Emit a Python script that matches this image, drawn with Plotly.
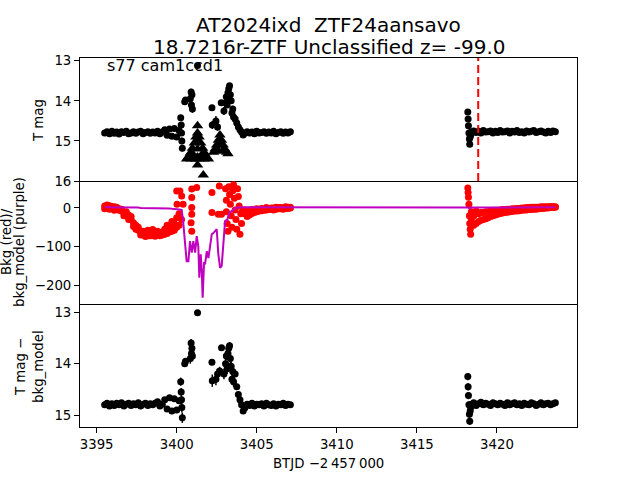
import plotly.graph_objects as go
from plotly.subplots import make_subplots

# ---------------- data ----------------
t_pre = [3395.50, 3395.65, 3395.80, 3395.95, 3396.10, 3396.25, 3396.40, 3396.55, 3396.70, 3396.85,
         3397.00, 3397.15, 3397.30, 3397.45, 3397.60, 3397.75, 3397.90, 3398.05, 3398.20, 3398.35,
         3398.50, 3398.65, 3398.80, 3398.95, 3399.10, 3399.25, 3399.40, 3399.55, 3399.70, 3399.85,
         3400.00, 3400.15]
mag_pre = [14.80, 14.77, 14.82, 14.76, 14.81, 14.78, 14.83, 14.77, 14.79, 14.76, 14.82, 14.80, 14.77, 14.81,
           14.78, 14.76, 14.82, 14.79, 14.77, 14.81, 14.78, 14.80, 14.76, 14.82, 14.78, 14.72, 14.86, 14.70,
           14.88, 14.69, 14.90, 14.74]
bkg_pre = [5, 2, 6, 0, 3, -3, -2, -8, -12, -20, -18, -30, -38, -45, -58, -62, -70, -66, -72, -64,
           -70, -60, -68, -72, -62, -55, -66, -50, -60, -40, -25, -45]
bkg_pre_b = [-2, 8, -3, 4, -6, 2, -6, -3, -20, -10, -30, -22, -48, -55, -50, -70, -60, -74, -58, -72,
             -56, -73, -60, -64, -70, -68, -45, -62, -35, -58, -50, -15]
model_pre = [2, 2, 2, 2, 2, 2, 1, 1, 1, 1, 1, 1, 1, 1, 1, 0, 0, 0, 0, 0, 0, 0, 0, 0, -1, -1, -1, -1,
             -2, -2, -3, -4]
diff_pre = [14.80, 14.77, 14.82, 14.78, 14.81, 14.77, 14.80, 14.76, 14.82, 14.79, 14.77, 14.81, 14.78, 14.80,
            14.76, 14.82, 14.79, 14.77, 14.81, 14.78, 14.80, 14.77, 14.74, 14.82, 14.79, 14.70, 14.88, 14.66,
            14.92, 14.68, 14.90, 14.72]

mag_act_t = [3400.25, 3400.28, 3400.30, 3400.32, 3400.35, 3400.50, 3400.55, 3400.85, 3400.90, 3400.92,
             3400.95, 3400.98, 3401.30, 3402.20, 3402.22, 3402.45, 3402.55, 3402.78, 3402.95, 3403.05,
             3403.10, 3403.15, 3403.20, 3403.25, 3403.30, 3403.35, 3403.40, 3403.45, 3403.50, 3403.55,
             3403.65, 3403.75, 3403.85, 3403.95, 3404.05, 3404.15]
mag_act = [14.42, 14.60, 14.80, 15.00, 15.18, 14.02, 13.98, 13.95, 13.78, 14.10, 13.85, 14.20, 13.12,
           14.17, 14.60, 14.50, 14.65, 14.05, 14.25, 14.05, 13.90, 14.10, 13.80, 13.70, 13.62, 13.85,
           14.00, 14.30, 14.20, 14.40, 14.45, 14.55, 14.65, 14.72, 14.78, 14.85]
mag_act_err = [0.06, 0.06, 0.07, 0.08, 0.08, 0.06, 0.06, 0.10, 0.08, 0.10, 0.08, 0.10, 0.04, 0.07, 0.10,
               0.12, 0.10, 0.06, 0.10, 0.08, 0.08, 0.08, 0.07, 0.07, 0.06, 0.08, 0.08, 0.10, 0.08, 0.08,
               0.06, 0.05, 0.05, 0.04, 0.04, 0.04]

ul_t = [3401.30, 3401.30, 3401.30, 3401.30, 3401.30, 3401.30, 3401.20, 3401.40, 3401.10, 3401.50,
        3400.98, 3401.62, 3400.85, 3401.75, 3400.72, 3401.88, 3400.62, 3401.98, 3401.05, 3401.55,
        3400.90, 3401.70, 3401.20, 3401.40, 3401.66,
        3402.70, 3402.60, 3402.80, 3402.50, 3402.90, 3402.40, 3403.00, 3402.30, 3403.12, 3403.20,
        3402.70, 3402.60, 3402.85]
ul_mag = [14.62, 14.80, 15.00, 15.20, 15.40, 15.60, 14.90, 14.90, 15.05, 15.05,
          15.18, 15.18, 15.30, 15.30, 15.40, 15.40, 15.45, 15.45, 15.35, 15.35,
          15.45, 15.45, 15.45, 15.45, 15.85,
          14.85, 14.98, 14.98, 15.10, 15.10, 15.20, 15.20, 15.28, 15.28, 15.32,
          15.10, 15.25, 15.25]

bkg_act_t = [3400.00, 3400.02, 3400.20, 3400.31, 3400.40, 3400.30, 3400.94, 3400.94, 3400.94, 3400.94,
             3400.90, 3400.94, 3401.25, 3402.20, 3402.20, 3402.60, 3402.66, 3402.80, 3403.05, 3403.10,
             3403.10, 3403.15, 3403.20, 3403.25, 3403.30, 3403.35, 3403.40, 3403.45, 3403.50, 3403.55,
             3403.60, 3403.65, 3403.70, 3403.75, 3403.80, 3403.85, 3403.90, 3403.95, 3404.00, 3404.05,
             3404.10]
bkg_act = [44, 10, 44, 31, 10, -30, 49, 27, 1, -16, -38, -60, 53, 40, -12, -16, 57, -16, 50, 20, -10,
           -40, -60, 55, 35, 10, -20, -50, 45, 60, 25, -5, -30, -55, 50, 30, 5, -68, -15, -40, -10]

model_act_t = [3400.31, 3400.40, 3400.52, 3400.62, 3400.73, 3400.83, 3400.94, 3401.04, 3401.15, 3401.25,
               3401.35, 3401.41, 3401.50, 3401.56, 3401.62, 3401.71, 3401.77, 3401.88, 3401.98, 3402.08,
               3402.19, 3402.29, 3402.40, 3402.50, 3402.60, 3402.71, 3402.81, 3402.91, 3403.02, 3403.16,
               3403.29, 3403.54, 3403.64, 3403.80, 3404.00]
model_act = [-5, -34, -86, -138, -138, -86, -116, -86, -116, -73, -100, -181, -120, -160, -233, -140,
             -146, -112, -130, -100, -68, -65, -60, -55, -120, -155, -150, -86, -34, -30, -12, -5, 0, 1, 2]

diff_act_t = [3400.25, 3400.28, 3400.30, 3400.32, 3400.35, 3400.50, 3400.55, 3400.85, 3400.90, 3400.92,
              3400.95, 3400.98, 3401.30, 3402.20, 3402.22, 3402.45, 3402.55, 3402.68, 3402.80, 3402.95,
              3403.05, 3403.10, 3403.15, 3403.20, 3403.25, 3403.30, 3403.35, 3403.40, 3403.45, 3403.50,
              3403.55, 3403.65, 3403.75, 3403.85, 3403.95, 3404.05, 3404.15]
diff_act = [14.35, 14.55, 14.70, 14.85, 15.05, 14.00, 13.95, 13.90, 13.60, 13.80, 13.70, 13.85, 13.01,
            13.97, 14.33, 14.30, 14.20, 14.14, 13.69, 14.20, 14.00, 13.85, 14.10, 13.80, 13.70, 13.65,
            13.90, 14.05, 14.30, 14.15, 14.35, 14.20, 14.45, 14.60, 14.70, 14.80, 14.92]
diff_act_err = [0.08, 0.08, 0.08, 0.10, 0.10, 0.06, 0.06, 0.10, 0.08, 0.10, 0.08, 0.10, 0.03, 0.06, 0.12,
                0.12, 0.10, 0.08, 0.05, 0.10, 0.10, 0.08, 0.10, 0.08, 0.07, 0.07, 0.10, 0.10, 0.10, 0.08,
                0.10, 0.06, 0.06, 0.05, 0.05, 0.04, 0.04]

t_post = [3404.25, 3404.40, 3404.55, 3404.70, 3404.85, 3405.00, 3405.15, 3405.30, 3405.45, 3405.60,
          3405.75, 3405.90, 3406.05, 3406.20, 3406.35, 3406.50, 3406.65, 3406.80, 3406.95, 3407.10]
mag_post = [14.81, 14.77, 14.80, 14.78, 14.82, 14.76, 14.80, 14.79, 14.77, 14.81, 14.78, 14.80, 14.76,
            14.82, 14.79, 14.77, 14.81, 14.78, 14.80, 14.77]
bkg_post = [-15, -22, -8, -14, -5, -10, -3, -7, -2, -5, -1, -4, 0, -3, 1, -2, 0, -1, 2, 0]
bkg_post_b = [-5, -10, -18, -4, -12, -2, -8, -1, -6, 1, -3, 0, -5, 2, -2, 1, -3, 3, -1, 2]
model_post = [2, 2, 2, 2, 2, 2, 2, 2, 2, 2, 2, 2, 2, 2, 2, 2, 2, 2, 2, 2]
diff_post = [14.86, 14.79, 14.81, 14.77, 14.82, 14.79, 14.80, 14.78, 14.82, 14.77, 14.80, 14.81, 14.78,
             14.82, 14.79, 14.80, 14.77, 14.81, 14.79, 14.80]

t_col2 = [3418.18, 3418.20, 3418.22, 3418.25, 3418.28, 3418.30, 3418.33, 3418.36]
mag_col2 = [14.28, 14.45, 14.62, 14.80, 14.95, 15.08, 14.90, 14.85]
bkg_col2 = [52, 40, 28, 10, -20, -40, -55, -68]
model_col2 = [2, 1, 0, -1, -1, -1, 0, 1]
diff_col2 = [14.25, 14.45, 14.62, 14.80, 14.98, 15.12, 14.92, 14.85]

t_seg2 = [3418.40, 3418.55, 3418.70, 3418.85, 3419.00, 3419.15, 3419.30, 3419.45, 3419.60, 3419.75,
          3419.90, 3420.05, 3420.20, 3420.35, 3420.50, 3420.65, 3420.80, 3420.95, 3421.10, 3421.25,
          3421.40, 3421.55, 3421.70, 3421.85, 3422.00, 3422.15, 3422.30, 3422.45, 3422.60, 3422.75,
          3422.90, 3423.05, 3423.20, 3423.35, 3423.50, 3423.65]
mag_seg2 = [14.78, 14.75, 14.79, 14.76, 14.80, 14.74, 14.78, 14.77, 14.75, 14.80, 14.76, 14.79, 14.74,
            14.78, 14.77, 14.75, 14.80, 14.76, 14.78, 14.74, 14.79, 14.77, 14.80, 14.75, 14.78, 14.76,
            14.74, 14.79, 14.77, 14.75, 14.78, 14.80, 14.76, 14.79, 14.75, 14.77]
bkg_seg2 = [-10, -45, -8, -35, -12, -30, -10, -25, -8, -20, -6, -16, -5, -13, -4, -11, -3, -9, -2, -8,
            -1, -6, 0, -5, 1, -4, 2, -3, 2, -1, 3, 0, 3, 1, 4, 2]
bkg_seg2_b = [-30, -20, -40, -15, -32, -12, -28, -10, -22, -8, -18, -6, -14, -4, -12, -3, -10, -2, -8, -1,
              -7, 0, -5, 1, -4, 2, -3, 2, -2, 3, -1, 3, 0, 4, 1, 3]
model_seg2 = [1, 1, 1, 1, 1, 1, 1, 1, 1, 1, 1, 1, 1, 1, 1, 1, 1, 1, 2, 2, 2, 2, 2, 2, 2, 2, 2, 2, 2, 2,
              2, 2, 2, 2, 2, 2]
diff_seg2 = [14.79, 14.76, 14.81, 14.78, 14.75, 14.80, 14.77, 14.79, 14.81, 14.76, 14.78, 14.80, 14.77,
             14.79, 14.81, 14.76, 14.80, 14.78, 14.76, 14.80, 14.78, 14.81, 14.77, 14.79, 14.80, 14.76,
             14.78, 14.81, 14.79, 14.76, 14.80, 14.78, 14.77, 14.80, 14.78, 14.76]

base_err = 0.05
col_err = 0.07
peak_time = 3418.83

x_ticks = [3395, 3400, 3405, 3410, 3415, 3420]
top_ticks = [13, 14, 15, 16]
mid_ticks = [0, -100, -200]
mid_ticklabels = ["0", "\u2212100", "\u2212200"]
bot_ticks = [13, 14, 15]

title1 = "AT2024ixd\u00a0\u00a0ZTF24aansavo"
title2 = "18.7216r-ZTF Unclassified z= -99.0"
label_text = "s77 cam1ccd1"

# ---------------- figure ----------------
FONT = "DejaVu Sans"
BLACK = "#000000"
RED = "#ff0000"
PURPLE = "#bf00bf"

fig = make_subplots(rows=3, cols=1, shared_xaxes=True, vertical_spacing=0)

# top panel
top_t = t_pre + mag_act_t + t_post + t_col2 + t_seg2
top_m = mag_pre + mag_act + mag_post + mag_col2 + mag_seg2
top_e = ([base_err] * len(t_pre) + mag_act_err + [base_err] * len(t_post)
         + [col_err] * len(t_col2) + [base_err] * len(t_seg2))
fig.add_trace(go.Scatter(x=top_t, y=top_m, mode="markers",
                         marker=dict(color=BLACK, size=7),
                         error_y=dict(type="data", array=top_e, color=BLACK, thickness=1.5, width=0),
                         showlegend=False), row=1, col=1)
fig.add_trace(go.Scatter(x=ul_t, y=ul_mag, mode="markers",
                         marker=dict(color=BLACK, size=10, symbol="triangle-up"),
                         showlegend=False), row=1, col=1)

# middle panel
mid_t = t_pre + t_pre + bkg_act_t + t_post + t_post + t_col2 + t_seg2 + t_seg2
mid_v = bkg_pre + bkg_pre_b + bkg_act + bkg_post + bkg_post_b + bkg_col2 + bkg_seg2 + bkg_seg2_b
fig.add_trace(go.Scatter(x=mid_t, y=mid_v, mode="markers",
                         marker=dict(color=RED, size=7),
                         showlegend=False), row=2, col=1)
mod_t = t_pre + model_act_t + t_post + t_col2 + t_seg2
mod_v = model_pre + model_act + model_post + model_col2 + model_seg2
fig.add_trace(go.Scatter(x=mod_t, y=mod_v, mode="lines",
                         line=dict(color=PURPLE, width=2),
                         showlegend=False), row=2, col=1)

# bottom panel
bot_t = t_pre + diff_act_t + t_post + t_col2 + t_seg2
bot_m = diff_pre + diff_act + diff_post + diff_col2 + diff_seg2
bot_e = ([base_err] * len(t_pre) + diff_act_err + [base_err] * len(t_post)
         + [col_err] * len(t_col2) + [base_err] * len(t_seg2))
fig.add_trace(go.Scatter(x=bot_t, y=bot_m, mode="markers",
                         marker=dict(color=BLACK, size=7),
                         error_y=dict(type="data", array=bot_e, color=BLACK, thickness=1.5, width=0),
                         showlegend=False), row=3, col=1)

# vertical dashed line in top panel
fig.add_shape(type="line", x0=peak_time, x1=peak_time, xref="x", yref="y domain", y0=0, y1=1,
              line=dict(color=RED, width=2, dash="8px,4px"))

ax_common = dict(showline=True, linecolor=BLACK, linewidth=1, showgrid=False,
                 zeroline=False, tickfont=dict(family=FONT, size=13.3, color=BLACK))
fig.update_xaxes(**ax_common, range=[3393.96, 3425.0])
fig.update_xaxes(row=1, col=1, showticklabels=False, ticks="", mirror=True)
fig.update_xaxes(row=2, col=1, showticklabels=False, ticks="", mirror=False)
fig.update_xaxes(row=3, col=1, tickvals=x_ticks, ticks="outside", ticklen=5, tickcolor=BLACK, mirror=False)

fig.update_yaxes(**ax_common, mirror=True, ticks="outside", ticklen=5, tickcolor=BLACK)
fig.update_yaxes(row=1, col=1, range=[16.0, 12.93], tickvals=top_ticks, domain=[2 / 3, 1.0])
fig.update_yaxes(row=2, col=1, range=[-249, 70], tickvals=mid_ticks, ticktext=mid_ticklabels,
                 domain=[1 / 3, 2 / 3])
fig.update_yaxes(row=3, col=1, range=[15.23, 12.84], tickvals=bot_ticks, domain=[0.0, 1 / 3])

L, R, T, B = 80, 63, 58, 53
W, H = 640, 480
pw, ph = W - L - R, H - T - B


def px(xp):
    return (xp - L) / pw


def py(yp):
    return (H - B - yp) / ph


ann = []
ann.append(dict(text=title1, x=0.5, y=py(25), xref="paper", yref="paper", showarrow=False,
                xanchor="center", yanchor="middle", font=dict(family=FONT, size=20, color=BLACK)))
ann.append(dict(text=title2, x=0.5, y=py(47), xref="paper", yref="paper", showarrow=False,
                xanchor="center", yanchor="middle", font=dict(family=FONT, size=20, color=BLACK)))
ann.append(dict(text=label_text, x=px(105), y=py(65), xref="paper", yref="paper", showarrow=False,
                xanchor="left", yanchor="middle", font=dict(family=FONT, size=16, color=BLACK)))
ann.append(dict(text="BTJD \u22122\u2009457\u2009000", x=0.5, y=py(463), xref="paper", yref="paper",
                showarrow=False, xanchor="center", yanchor="middle",
                font=dict(family=FONT, size=13.3, color=BLACK)))
for txt, xp, yp in [("T mag", 38, 121), ("Bkg (red)/", 6, 242), ("bkg_model (purple)", 19, 242),
                    ("T mag \u2212", 20, 367), ("bkg_model", 38, 367)]:
    ann.append(dict(text=txt, x=px(xp), y=py(yp), xref="paper", yref="paper", showarrow=False,
                    textangle=-90, xanchor="center", yanchor="middle",
                    font=dict(family=FONT, size=13.3, color=BLACK)))
fig.update_layout(annotations=ann)

fig.update_layout(width=W, height=H, margin=dict(l=L, r=R, t=T, b=B),
                  plot_bgcolor="white", paper_bgcolor="white",
                  font=dict(family=FONT, color=BLACK))

fig.write_html("out.html", config={"displayModeBar": False},
               post_script="document.body.style.margin='0';document.body.style.overflow='hidden';")
